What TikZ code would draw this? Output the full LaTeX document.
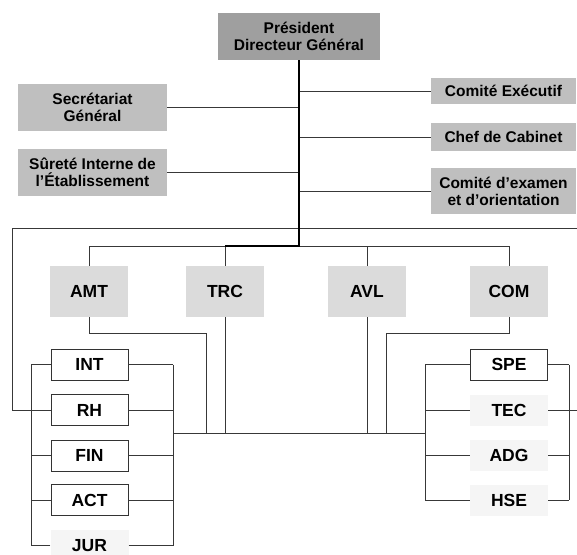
\documentclass[tikz,border=0pt]{standalone}
\usepackage{fontspec}
\setmainfont{Liberation Sans}
\begin{document}
\begin{tikzpicture}[x=1pt,y=-1pt,
  every node/.style={inner sep=0pt, align=center, font=\bfseries\fontsize{15.5}{17}\selectfont},
  headbox/.style={rectangle, fill=gray!75!white, minimum width=162pt, minimum height=47pt},
  staffbox/.style={rectangle, fill=black!25, minimum width=149pt, minimum height=47pt},
  sidebox/.style={rectangle, fill=black!25, minimum width=145pt},
  divbox/.style={rectangle, fill=black!14, minimum width=78pt, minimum height=51pt, font=\bfseries\fontsize{17.5}{19}\selectfont},
  unitbox/.style={rectangle, draw=black!80, line width=0.8pt, fill=white, minimum width=77pt, minimum height=31pt, font=\bfseries\fontsize{17.5}{19}\selectfont},
  softbox/.style={rectangle, fill=black!4, minimum width=78pt, minimum height=31pt, font=\bfseries\fontsize{17.5}{19}\selectfont},
  link/.style={draw=black!78, line width=0.8pt},
  mainlink/.style={draw=black, line width=2pt}
]
\useasboundingbox (0,0) rectangle (577,554);

% Direction
\node[headbox] (pdg) at (299,36.5) {Président\\Directeur Général};

% Staff units
\node[staffbox] (sg)  at (92.5,107.5) {Secrétariat\\Général};
\node[staffbox] (sie) at (92.5,172.5) {Sûreté Interne de\\l’Établissement};
\node[sidebox, minimum height=26pt] (cex) at (503.5,91) {Comité Exécutif};
\node[sidebox, minimum height=28pt] (cab) at (503.5,137) {Chef de Cabinet};
\node[sidebox, minimum height=46pt] (cdo) at (503.5,191) {Comité d’examen\\et d’orientation};

% Divisions
\node[divbox] (amt) at (89,291.5)  {AMT};
\node[divbox] (trc) at (225,291.5) {TRC};
\node[divbox] (avl) at (367,291.5) {AVL};
\node[divbox] (com) at (509,291.5) {COM};

% Support units, left group
\node[unitbox] (int) at (89.5,364.5) {INT};
\node[unitbox] (rh)  at (89.5,410)   {RH};
\node[unitbox] (fin) at (89.5,455.5) {FIN};
\node[unitbox] (act) at (89.5,500)   {ACT};
\node[softbox] (jur) at (89.5,545.5) {JUR};

% Support units, right group
\node[unitbox] (spe) at (509,364.5) {SPE};
\node[softbox] (tec) at (509,410)   {TEC};
\node[softbox] (adg) at (509,455.5) {ADG};
\node[softbox] (hse) at (509,500)   {HSE};

% Routing coordinates
\coordinate (topbus) at (0,246);
\coordinate (lowbus) at (0,433);
\coordinate (lx) at (31,0);
\coordinate (rx) at (173,0);
\coordinate (lx2) at (425,0);
\coordinate (rx2) at (569,0);
\coordinate (amtbend) at (206,333);
\coordinate (combend) at (386,333);
\coordinate (outl) at (12,228);
\coordinate (outr) at (580,228);

% Staff links to the main stem
\draw[link] (sg.east)  -- (sg.east -| pdg.south);
\draw[link] (sie.east) -- (sie.east -| pdg.south);
\draw[link] (cex.west) -- (cex.west -| pdg.south);
\draw[link] (cab.west) -- (cab.west -| pdg.south);
\draw[link] (cdo.west) -- (cdo.west -| pdg.south);

% Outer loop
\draw[link] (rh.west -| lx) -| (outl) -- (outr) |- (tec.east);

% Division bus
\draw[link] (amt.north) -- (amt.north |- topbus) -- (com.north |- topbus) -- (com.north);
\draw[link] (avl.north) -- (avl.north |- topbus);
\draw[link] (trc.north) -- (trc.north |- topbus);
\draw[mainlink] (pdg.south) -- (pdg.south |- topbus) -- (trc.north |- topbus);

% Divisions down to the lower bus
\draw[link] (amt.south) |- (amtbend) -- (amtbend |- lowbus);
\draw[link] (com.south) |- (combend) -- (combend |- lowbus);
\draw[link] (trc.south) -- (trc.south |- lowbus);
\draw[link] (avl.south) -- (avl.south |- lowbus);
\draw[link] (rx |- lowbus) -- (lx2 |- lowbus);

% Left group frame
\draw[link] (int.west -| lx) -- (jur.west -| lx);
\draw[link] (int.east -| rx) -- (jur.east -| rx);
\foreach \n in {int,rh,fin,act,jur} {
  \draw[link] (\n.west) -- (\n.west -| lx);
  \draw[link] (\n.east) -- (\n.east -| rx);
}

% Right group frame
\draw[link] (spe.west -| lx2) -- (hse.west -| lx2);
\draw[link] (spe.east -| rx2) -- (hse.east -| rx2);
\foreach \n in {spe,tec,adg,hse} {
  \draw[link] (\n.west) -- (\n.west -| lx2);
  \draw[link] (\n.east) -- (\n.east -| rx2);
}
\end{tikzpicture}
\end{document}
